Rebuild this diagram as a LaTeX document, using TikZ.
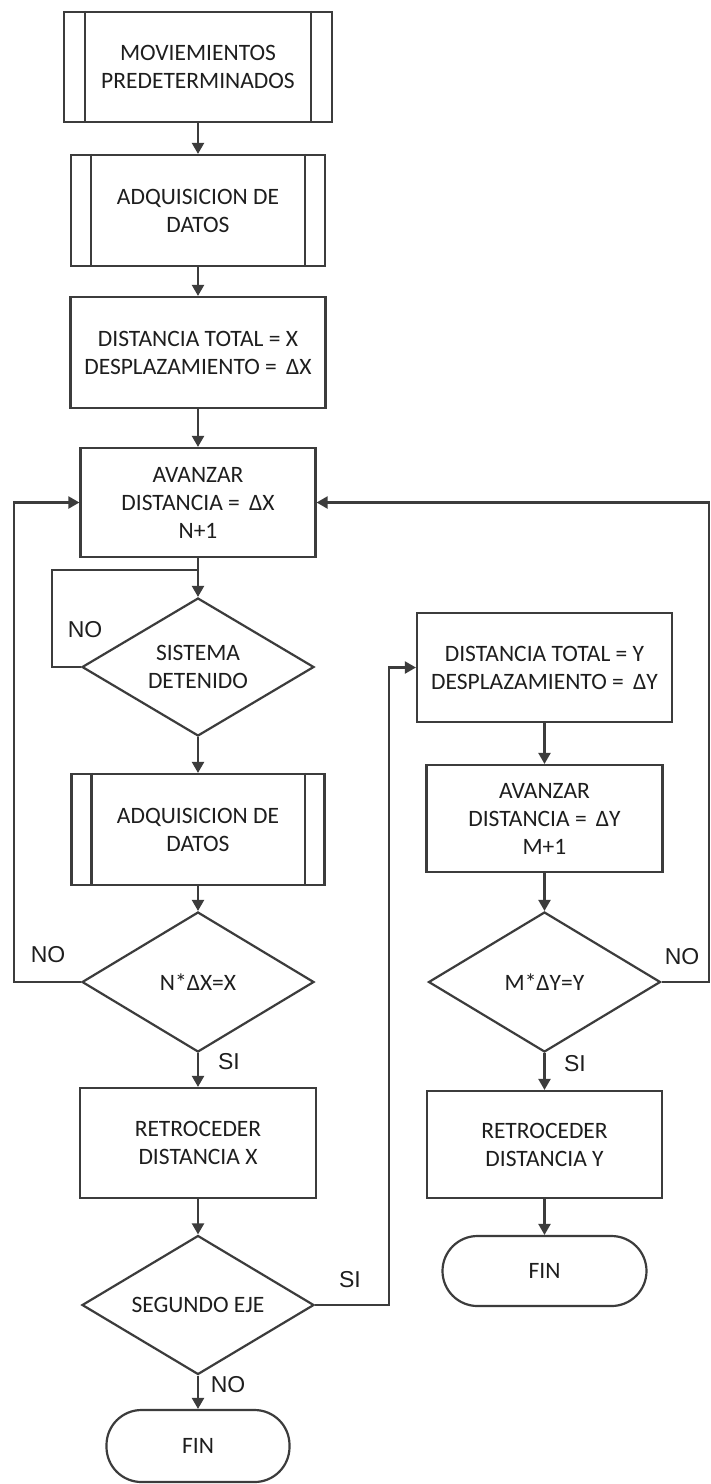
\documentclass[tikz,border=0pt]{standalone}
\usepackage{fontspec}
\setmainfont{Carlito}
\newfontfamily\lblfont{Liberation Sans}
\usetikzlibrary{shapes.geometric,arrows.meta}
\definecolor{linecol}{HTML}{3C3C3C}
\definecolor{txtcol}{HTML}{1E1E1E}

\begin{document}
\begin{tikzpicture}[x=1pt,y=-1pt,
  base/.style={draw=linecol, line width=2.2pt, fill=white, inner sep=0pt,
    align=center, text=txtcol, font=\fontsize{23.5}{28}\selectfont},
  proc/.style={base, rectangle},
  dec/.style={base, diamond, aspect=1.65, minimum width=232pt, minimum height=140pt},
  term/.style={base, rectangle, rounded corners=35pt},
  link/.style={draw=linecol, line width=2.2pt},
  flow/.style={link, -{Triangle[width=12pt,length=11pt]}},
  lbl/.style={font=\lblfont\fontsize{23}{23}\selectfont, text=txtcol, inner sep=0pt}]

\useasboundingbox[fill=white] (0,0) rectangle (711,1484);

% main column
\node[proc, minimum width=268pt, minimum height=110pt] (b1) at (198,67)
  {MOVIEMIENTOS\\PREDETERMINADOS};
\node[proc, minimum width=254pt, minimum height=111pt] (b2) at (198,210.5)
  {ADQUISICION DE\\DATOS};
\node[proc, minimum width=255pt, minimum height=111pt] (b3) at (198,352.5)
  {DISTANCIA TOTAL = X\\DESPLAZAMIENTO = \,ΔX};
\node[proc, minimum width=235pt, minimum height=109pt] (b4) at (198,502.5)
  {AVANZAR\\DISTANCIA = \,ΔX\\N+1};
\node[dec, minimum height=138pt] (d1) at (198,667) {SISTEMA\\DETENIDO};
\node[proc, minimum width=253pt, minimum height=111pt] (b5) at (198,829.5)
  {ADQUISICION DE\\DATOS};
\node[dec] (d2) at (198,982) {N*ΔX=X};
\node[proc, minimum width=236pt, minimum height=110pt] (b6) at (198,1143)
  {RETROCEDER\\DISTANCIA X};
\node[dec, minimum height=139pt] (d3) at (198,1305) {SEGUNDO EJE};
\node[term, minimum width=183pt, minimum height=72pt] (f1) at (198,1446) {FIN};

% second axis column
\node[proc, minimum width=255pt, minimum height=109pt] (b7) at (544.5,667.5)
  {DISTANCIA TOTAL = Y\\DESPLAZAMIENTO = \,ΔY};
\node[proc, minimum width=236pt, minimum height=107pt] (b8) at (544.5,818.5)
  {AVANZAR\\DISTANCIA = \,ΔY\\M+1};
\node[dec] (d4) at (544.5,982) {M*ΔY=Y};
\node[proc, minimum width=235pt, minimum height=107pt] (b9) at (544.5,1144.5)
  {RETROCEDER\\DISTANCIA Y};
\node[term, minimum width=204pt, minimum height=70pt] (f2) at (544.5,1271) {FIN};

% side bars of the predefined-process boxes
\foreach \b/\d in {b1/22, b2/21, b5/21}{
  \draw[link] ([xshift=\d pt]\b.north west) -- ([xshift=\d pt]\b.south west);
  \draw[link] ([xshift=-\d pt]\b.north east) -- ([xshift=-\d pt]\b.south east);
}

% straight flow
\draw[flow] (b1) -- (b2);
\draw[flow] (b2) -- (b3);
\draw[flow] (b3) -- (b4);
\draw[flow] (b4) -- (d1);
\draw[flow] (d1) -- (b5);
\draw[flow] (b5) -- (d2);
\draw[flow] (d2) -- (b6);
\draw[flow] (b6) -- (d3);
\draw[flow] (d3) -- (f1);
\draw[flow] (b7) -- (b8);
\draw[flow] (b8) -- (d4);
\draw[flow] (d4) -- (b9);
\draw[flow] (b9) -- (f2);

% loops
\coordinate (j1) at (198,570);
\draw[link] (d1.west) -- (52,667) |- (j1);
\draw[flow] (d2.west) -- (14,982) |- (b4.west);
\draw[flow] (d4.east) -- (709,982) |- (b4.east);
\draw[flow] (d3.east) -- (389,1305) |- (b7.west);

% branch labels
\node[lbl] (n1) at (85,630) {NO};
\node[lbl] (n2) at (48,955) {NO};
\node[lbl] (s2) at (229,1062) {SI};
\node[lbl] (s3) at (350,1280) {SI};
\node[lbl] (n3) at (228,1385) {NO};
\node[lbl] (n4) at (682,957) {NO};
\node[lbl] (s4) at (575,1064) {SI};
\end{tikzpicture}
\end{document}
